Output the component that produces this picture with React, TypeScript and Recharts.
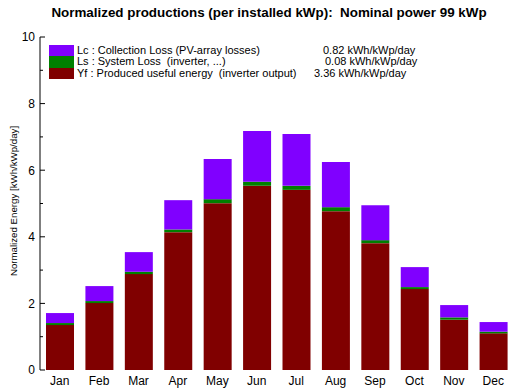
import { BarChart, Bar, XAxis, YAxis } from "recharts";

const months = ["Jan", "Feb", "Mar", "Apr", "May", "Jun", "Jul", "Aug", "Sep", "Oct", "Nov", "Dec"];
const yfValues = [1.35, 2.01, 2.88, 4.14, 5.01, 5.53, 5.41, 4.77, 3.81, 2.43, 1.51, 1.1];
const lsValues = [0.06, 0.06, 0.07, 0.08, 0.12, 0.12, 0.12, 0.12, 0.09, 0.06, 0.07, 0.05];
const lcValues = [0.3, 0.45, 0.59, 0.88, 1.21, 1.53, 1.56, 1.36, 1.05, 0.6, 0.37, 0.29];

const yTicks = [0, 1, 2, 3, 4, 5, 6, 7, 8, 9, 10];
const boundaryTicks = [1, 2, 3, 4, 5, 6, 7, 8, 9, 10, 11];

const legendLabels = [
  "Lc : Collection Loss (PV-array losses)",
  "Ls : System Loss  (inverter, ...)",
  "Yf : Produced useful energy  (inverter output)",
];
const legendValues = ["0.82 kWh/kWp/day", "0.08 kWh/kWp/day", "3.36 kWh/kWp/day"];
const legendValueLeft = [274, 276, 265];

const colors = { lc: "#8000ff", ls: "#008000", yf: "#800000" };
const legendColors = [colors.lc, colors.ls, colors.yf];

const data = months.map((m, i) => ({ month: m, yf: yfValues[i], ls: lsValues[i], lc: lcValues[i] }));

const font = "'Liberation Sans', Arial, sans-serif";

const LeftTick = (props: any) => {
  const { x, y, payload } = props;
  const major = payload.value % 2 === 0;
  return (
    <g>
      <line x1={x} y1={y} x2={x + (major ? 5 : 3)} y2={y} stroke="#000" />
      {major && (
        <text x={x - 5} y={y} dy="0.36em" textAnchor="end" fontSize={12} fontFamily={font} fill="#000">
          {payload.value}
        </text>
      )}
    </g>
  );
};

const RightTick = (props: any) => {
  const { x, y, payload } = props;
  const major = payload.value % 2 === 0;
  return <line x1={x} y1={y} x2={x - (major ? 5 : 3)} y2={y} stroke="#000" />;
};

const BottomTick = (props: any) => {
  const { x, y } = props;
  return <line x1={x} y1={y} x2={x} y2={y - 5} stroke="#000" />;
};

const TopTick = (props: any) => {
  const { x, y } = props;
  return <line x1={x} y1={y} x2={x} y2={y + 5} stroke="#000" />;
};

const LegendBox = () => (
  <div
    style={{
      position: "absolute",
      left: 49,
      top: 45,
      width: 420,
      fontFamily: font,
      fontSize: 11,
      color: "#000",
      zIndex: 2,
    }}
  >
    {legendLabels.map((label, i) => (
      <div key={label} style={{ position: "relative", height: 11.4, lineHeight: "11.4px", whiteSpace: "pre" }}>
        <span style={{ position: "absolute", left: 0, top: 0, width: 25, height: 11.4, background: legendColors[i] }} />
        <span style={{ position: "absolute", left: 28, top: 0 }}>{label}</span>
        <span style={{ position: "absolute", left: legendValueLeft[i], top: 0 }}>{legendValues[i]}</span>
      </div>
    ))}
  </div>
);

export default function App() {
  return (
    <div style={{ position: "absolute", left: 0, top: 0, width: 523, height: 388, background: "#fff" }}>
      <BarChart
        width={523}
        height={388}
        data={data}
        margin={{ top: 37, right: 10, bottom: 0, left: 0 }}
        barSize={28}
        style={{ position: "absolute", left: 0, top: 0 }}
      >
        <XAxis
          xAxisId="bt"
          type="number"
          domain={[0, 12]}
          ticks={boundaryTicks}
          orientation="bottom"
          height={0}
          tickSize={0}
          tickMargin={0}
          tickLine={false}
          axisLine={{ stroke: "#000" }}
          tick={<BottomTick />}
          interval={0}
        />
        <XAxis
          dataKey="month"
          height={18}
          tickLine={false}
          axisLine={false}
          tickSize={0}
          tickMargin={6}
          interval={0}
          tick={{ fontSize: 12, fontFamily: font, fill: "#000" }}
        />
        <XAxis
          xAxisId="top"
          type="number"
          domain={[0, 12]}
          ticks={boundaryTicks}
          orientation="top"
          height={0}
          tickSize={0}
          tickMargin={0}
          tickLine={false}
          axisLine={{ stroke: "#000" }}
          tick={<TopTick />}
          interval={0}
        />
        <YAxis
          domain={[0, 10]}
          ticks={yTicks}
          width={40}
          interval={0}
          tickSize={0}
          tickMargin={0}
          tickLine={false}
          axisLine={{ stroke: "#000" }}
          tick={<LeftTick />}
        />
        <YAxis
          yAxisId="r"
          orientation="right"
          domain={[0, 10]}
          ticks={yTicks}
          width={0}
          interval={0}
          tickSize={0}
          tickMargin={0}
          tickLine={false}
          axisLine={{ stroke: "#000" }}
          tick={<RightTick />}
        />
        <Bar dataKey="yf" stackId="a" fill={colors.yf} isAnimationActive={false} />
        <Bar dataKey="ls" stackId="a" fill={colors.ls} isAnimationActive={false} />
        <Bar dataKey="lc" stackId="a" fill={colors.lc} isAnimationActive={false} />
      </BarChart>
      <div
        style={{
          position: "absolute",
          left: 0,
          top: 5,
          width: 538,
          textAlign: "center",
          fontFamily: font,
          fontWeight: "bold",
          fontSize: 13.4,
          whiteSpace: "pre",
        }}
      >
        {"Normalized productions (per installed kWp):  Nominal power 99 kWp"}
      </div>
      <div
        style={{
          position: "absolute",
          left: 13,
          top: 201,
          transform: "translate(-50%, -50%) rotate(-90deg)",
          fontFamily: font,
          fontSize: 9.7,
          whiteSpace: "nowrap",
        }}
      >
        Normalized Energy [kWh/kWp/day]
      </div>
      <LegendBox />
    </div>
  );
}
